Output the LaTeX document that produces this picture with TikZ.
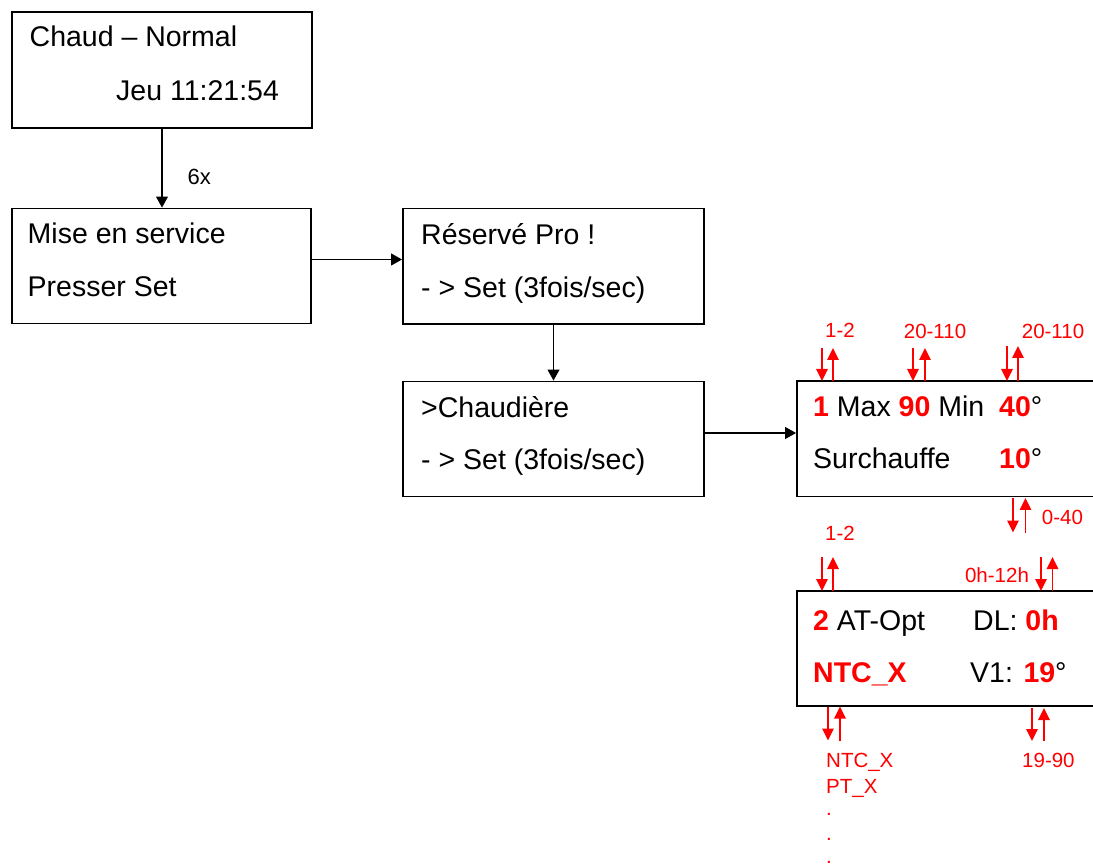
\documentclass[tikz,border=0pt]{standalone}
\usepackage{fontspec}
\setmainfont{Liberation Sans}
\usetikzlibrary{arrows.meta}
\newcommand\redbold[1]{\textcolor{red}{\bfseries #1}}
\begin{document}
\begin{tikzpicture}[x=1pt,y=-1pt,
  box/.style={draw=black, line width=1.9pt, inner sep=0pt, anchor=center},
  txt/.style={anchor=base west, inner sep=0pt, font=\fontsize{28.5}{30}\selectfont},
  rtxt/.style={anchor=base west, inner sep=0pt, text=red, font=\fontsize{20.5}{22}\selectfont},
  rlab/.style={anchor=base, inner sep=0pt, text=red, font=\fontsize{20.5}{22}\selectfont},
  conn/.style={draw=black, line width=1.1pt, -{Triangle[width=12pt,length=11pt]}},
  rarr/.style={draw=red, line width=1.5pt, -{Triangle[width=11.5pt,length=12pt]}}
]
\useasboundingbox (0,0) rectangle (1093,866);
\clip (0,0) rectangle (1093,866);

% boxes
\node[box, minimum width=300pt, minimum height=116pt] (A) at (162,70) {};
\node[box, minimum width=299pt, minimum height=115pt] (B) at (161.5,266) {};
\node[box, minimum width=301pt, minimum height=115.5pt] (C) at (553.5,266.25) {};
\node[box, minimum width=301pt, minimum height=115pt] (D) at (553.5,439) {};
\node[box, minimum width=301pt, minimum height=115.5pt] (E) at (947.5,438.75) {};
\node[box, minimum width=301pt, minimum height=115pt] (F) at (947.5,648.5) {};

% texts
\node[txt] (a1) at (29.5,47) {Chaud – Normal};
\node[txt] (a2) at (116,101) {Jeu 11:21:54};
\node[txt] (b1) at (27.5,243.5) {Mise en service};
\node[txt] (b2) at (27.5,297) {Presser Set};
\node[txt] (c1) at (421,245) {Réservé Pro !};
\node[txt] (c2) at (421,297.5) {- > Set (3fois/sec)};
\node[txt] (d1) at (421,417.5) {>Chaudière};
\node[txt] (d2) at (421,470) {- > Set (3fois/sec)};
\node[txt] (e1) at (813,417) {\redbold{1} Max \redbold{90} Min};
\node[txt] (e2) at (999,417) {\redbold{40}°};
\node[txt] (e3) at (813,468.5) {Surchauffe};
\node[txt] (e4) at (999,468.5) {\redbold{10}°};
\node[txt] (f1) at (813,630) {\redbold{2} AT-Opt};
\node[txt] (f2) at (973,630) {DL: \redbold{0h}};
\node[txt] (f3) at (813,682) {\redbold{NTC\_X}};
\node[txt] (f4) at (970,682) {V1: \redbold{19}°};

% connectors
\draw[conn] (A.south) -- (A.south |- B.north)
  node[midway, anchor=base west, inner sep=0pt, xshift=25pt, yshift=-16pt, font=\fontsize{22}{23}\selectfont] (lab6) {6x};
\draw[conn] ([yshift=6.5pt]B.east) -- ([yshift=6.5pt]B.east -| C.west);
\draw[conn] (C.south) -- (D.north);
\draw[conn] ([yshift=6pt]D.east) -- ([yshift=6pt]D.east -| E.west);

% red arrow pairs
\draw[rarr] (822,348) -- (822,381);
\draw[rarr] (833,381) -- (833,348);
\draw[rarr] (913,348) -- (913,381);
\draw[rarr] (925,381) -- (925,348);
\draw[rarr] (1007,346) -- (1007,381);
\draw[rarr] (1018,381) -- (1018,346);
\draw[rarr] (1013,498) -- (1013,532.5);
\draw[rarr] (1025.5,532.5) -- (1025.5,498);
\draw[rarr] (822,557) -- (822,591);
\draw[rarr] (833,591) -- (833,557);
\draw[rarr] (1041,557) -- (1041,591);
\draw[rarr] (1052.5,591) -- (1052.5,557);
\draw[rarr] (828,706.5) -- (828,740.5);
\draw[rarr] (840,740.5) -- (840,706.5);
\draw[rarr] (1032,708) -- (1032,741);
\draw[rarr] (1044,741) -- (1044,708);

% red labels
\node[rlab] (r1) at (840,338) {1-2};
\node[rlab] (r2) at (935,338.5) {20-110};
\node[rlab] (r3) at (1053,338.5) {20-110};
\node[rlab] (r4) at (1062.5,524.5) {0-40};
\node[rlab] (r5) at (840,540.5) {1-2};
\node[rlab] (r6) at (997,582.5) {0h-12h};
\node[rtxt] (r7) at (826,767.5) {NTC\_X};
\node[rtxt] (r8) at (826,793.5) {PT\_X};
\node[rtxt] (r9) at (1022,767.5) {19-90};
\node[rtxt] (d1dot) at (826,815.5) {.};
\node[rtxt] (d2dot) at (826,840) {.};
\node[rtxt] (d3dot) at (826,863) {.};
\end{tikzpicture}
\end{document}
